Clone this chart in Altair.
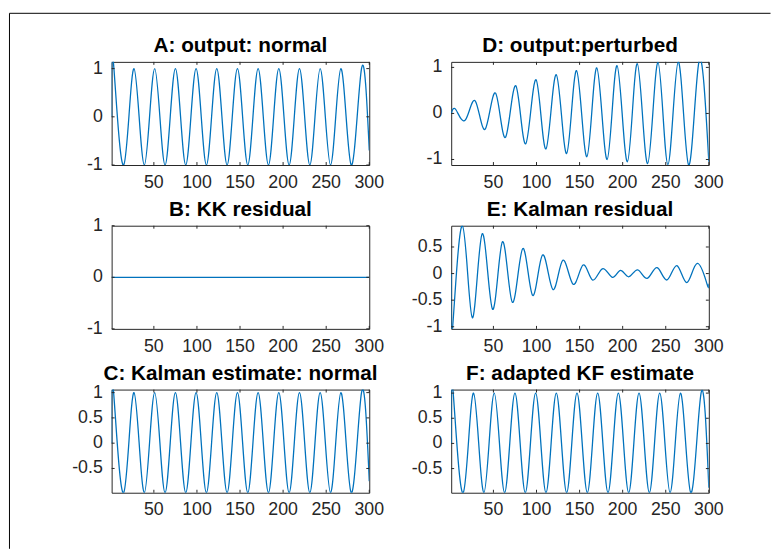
import altair as alt
import pandas as pd

# ---------------- data ----------------
X_TICKS = [50, 100, 150, 200, 250, 300]

# A, C, F share the timing of their extremes (peaks / troughs)
ACF_X = [1, 3, 15, 27, 39, 51, 63, 75, 87, 99, 111, 123, 135, 147, 159, 171,
         183, 195, 207, 219, 231, 243, 255, 267, 279, 291, 300]
A_Y = [0, 1.14, -1.0, 1.0, -1.0, 1.0, -1.0, 1.0, -1.0, 1.0, -1.0, 1.0, -1.0, 1.0,
       -1.0, 1.0, -1.0, 1.0, -1.0, 1.0, -1.0, 1.0, -1.0, 1.0, -1.0, 1.0, -0.70]
C_Y = [0, 1.06, -0.98, 1.0, -0.98, 1.0, -0.98, 1.0, -0.98, 1.0, -0.98, 1.0, -0.98, 1.0,
       -0.98, 1.0, -0.98, 1.0, -0.98, 1.0, -0.98, 1.0, -0.98, 1.0, -0.98, 1.0, -0.75]
F_Y = [0, 1.07, -0.98, 1.0, -0.98, 1.0, -0.98, 1.0, -0.98, 1.0, -0.98, 1.0, -0.98, 1.0,
       -0.98, 1.0, -0.98, 1.0, -0.98, 1.0, -0.98, 1.0, -0.98, 1.0, -0.98, 1.0, -0.88]

B_X = [1, 300]
B_Y = [0, 0]

D_X = [1, 6.5, 17.5, 29, 40.5, 52.5, 64, 76, 87.5, 99.5, 111, 123, 135, 146.5,
       158.5, 170, 182, 193.5, 205.5, 217, 229, 241, 252.5, 264.5, 276.5, 288.5, 300]
D_Y = [0, 0.08, -0.14, 0.27, -0.34, 0.44, -0.52, 0.60, -0.66, 0.73, -0.77, 0.84,
       -0.87, 0.93, -0.94, 0.99, -1.00, 1.04, -1.05, 1.08, -1.09, 1.11, -1.11, 1.12,
       -1.12, 1.12, -1.05]

E_X = [1, 2.5, 14, 25.5, 37, 49, 60.5, 72, 84, 95.5, 107, 119, 130.5, 142.5, 154,
       165, 176.5, 188, 197.5, 207, 217.5, 228.5, 240, 251.5, 263, 274.5, 286.5, 298, 300]
E_Y = [0, -1.04, 0.90, -0.83, 0.75, -0.67, 0.60, -0.54, 0.47, -0.41, 0.35, -0.30,
       0.25, -0.20, 0.16, -0.12, 0.09, -0.07, 0.06, -0.06, 0.07, -0.09, 0.11, -0.12,
       0.15, -0.17, 0.19, -0.20, -0.19]

TITLES = ["A: output: normal", "D: output:perturbed", "B: KK residual",
          "E: Kalman residual", "C: Kalman estimate: normal", "F: adapted KF estimate"]

# ---------------- style ----------------
LINE_COLOR = "#0072BD"
AXIS_COLOR = "#262626"
FONT = "Liberation Sans"
LABEL_SIZE = 18
TITLE_SIZE = 21
W, H = 261, 104.5
TICK = 3
FRAME_TOP = -49.2


def panel(title, xs, ys, ydom, yticks, frame=False):
    df = pd.DataFrame({"x": xs, "y": ys})
    xscale = alt.Scale(domain=[1, 300], nice=False, zero=False)
    yscale = alt.Scale(domain=ydom, nice=False, zero=False)
    line = alt.Chart(df).mark_line(
        color=LINE_COLOR, strokeWidth=1.3, interpolate="natural", clip=True
    ).encode(
        x=alt.X("x:Q", scale=xscale, axis=None),
        y=alt.Y("y:Q", scale=yscale, axis=None),
    )
    xt = pd.DataFrame({"t": X_TICKS, "lab": [f"{v:g}" for v in X_TICKS]})
    yt = pd.DataFrame({"t": yticks, "lab": [f"{v:g}" for v in yticks]})
    rule = dict(color=AXIS_COLOR, strokeWidth=1)
    xt_top = alt.Chart(xt).mark_rule(**rule).encode(
        x=alt.X("t:Q", scale=xscale, axis=None), y=alt.value(0), y2=alt.value(TICK))
    xt_bot = alt.Chart(xt).mark_rule(**rule).encode(
        x=alt.X("t:Q", scale=xscale, axis=None), y=alt.value(H - TICK), y2=alt.value(H))
    yt_l = alt.Chart(yt).mark_rule(**rule).encode(
        y=alt.Y("t:Q", scale=yscale, axis=None), x=alt.value(0), x2=alt.value(TICK))
    yt_r = alt.Chart(yt).mark_rule(**rule).encode(
        y=alt.Y("t:Q", scale=yscale, axis=None), x=alt.value(W - TICK), x2=alt.value(W))
    xlab = alt.Chart(xt).mark_text(
        font=FONT, fontSize=LABEL_SIZE, color=AXIS_COLOR, align="center", baseline="alphabetic"
    ).encode(x=alt.X("t:Q", scale=xscale, axis=None), y=alt.value(H + 23), text="lab:N")
    ylab = alt.Chart(yt).mark_text(
        font=FONT, fontSize=LABEL_SIZE, color=AXIS_COLOR, align="right", baseline="middle"
    ).encode(y=alt.Y("t:Q", scale=yscale, axis=None), x=alt.value(-9), text="lab:N")
    ttl = alt.Chart(pd.DataFrame({"s": [title]})).mark_text(
        font=FONT, fontSize=TITLE_SIZE, fontWeight="bold", color="black",
        align="center", baseline="alphabetic"
    ).encode(x=alt.value(W / 2), y=alt.value(-10), text="s:N")
    layers = [line, xt_top, xt_bot, yt_l, yt_r, xlab, ylab, ttl]
    if frame:
        one = pd.DataFrame({"a": [0]})
        layers.append(alt.Chart(one).mark_rule(color="black", strokeWidth=1).encode(
            x=alt.value(-103.5), y=alt.value(FRAME_TOP), y2=alt.value(493.3)))
        layers.append(alt.Chart(one).mark_rule(color="black", strokeWidth=1).encode(
            x=alt.value(-103.5), x2=alt.value(667.5), y=alt.value(FRAME_TOP)))
    return alt.layer(*layers).properties(width=W, height=H)


pA = panel(TITLES[0], ACF_X, A_Y, [-1.0, 1.14], [-1, 0, 1], frame=True)
pD = panel(TITLES[1], D_X, D_Y, [-1.12, 1.12], [-1, 0, 1])
pB = panel(TITLES[2], B_X, B_Y, [-1.0, 1.0], [-1, 0, 1])
pE = panel(TITLES[3], E_X, E_Y, [-1.04, 0.9], [-1, -0.5, 0, 0.5])
pC = panel(TITLES[4], ACF_X, C_Y, [-0.98, 1.06], [-0.5, 0, 0.5, 1])
pF = panel(TITLES[5], ACF_X, F_Y, [-0.98, 1.07], [-0.5, 0, 0.5, 1])

chart = alt.concat(
    pA, pD, pB, pE, pC, pF, columns=2, bounds="flush",
    spacing={"row": 61, "column": 83},
).properties(
    padding={"left": 0, "top": 0, "right": 0, "bottom": 0},
    autosize=alt.AutoSizeParams(type="pad"),
    background="white",
).configure_view(
    stroke=AXIS_COLOR, strokeWidth=1
)

chart.save("out.html", embed_options={"renderer": "svg", "actions": False})
